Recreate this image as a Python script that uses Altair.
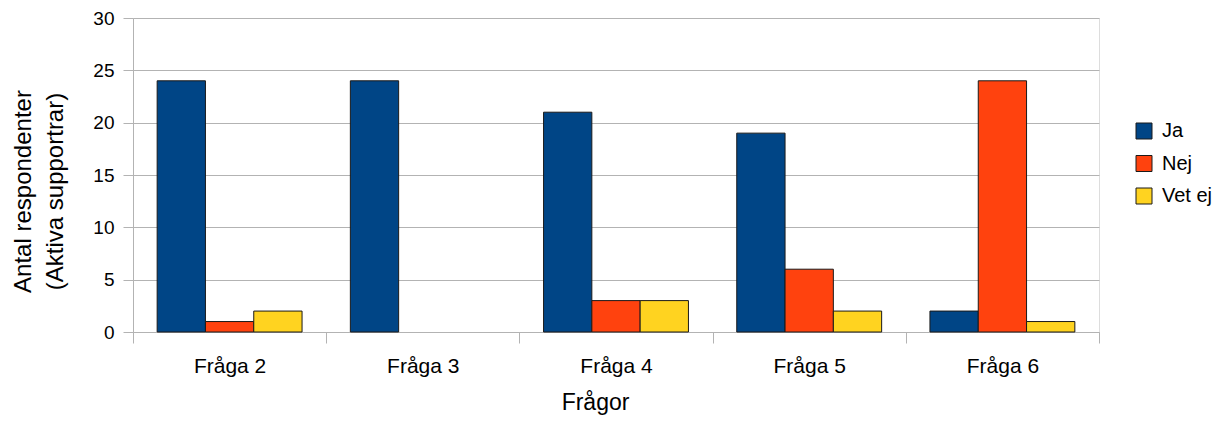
import altair as alt
import pandas as pd

questions = ["Fråga 2", "Fråga 3", "Fråga 4", "Fråga 5", "Fråga 6"]
series = ["Ja", "Nej", "Vet ej"]
ja = [24, 24, 21, 19, 2]
nej = [1, 0, 3, 6, 24]
vet_ej = [2, 0, 3, 2, 1]
colors = ["#004586", "#FF420E", "#FFD320"]

rows = []
for i, q in enumerate(questions):
    for s, vals in zip(series, [ja, nej, vet_ej]):
        rows.append({"q": q, "s": s, "v": vals[i]})
df = pd.DataFrame(rows)

FONT = "Liberation Sans"
GRAY = "#b3b3b3"

chart = alt.Chart(df).transform_filter("datum.v > 0").mark_bar(
    stroke="#1a1a1a", strokeWidth=1
).encode(
    x=alt.X("q:N", sort=questions,
            scale=alt.Scale(paddingInner=0, paddingOuter=0),
            axis=alt.Axis(title="Frågor", labelAngle=0, tickBand="extent",
                          tickSize=11, labelPadding=12,
                          labelFontSize=21, titleFontSize=23,
                          titleX=462, titleY=59, titleBaseline="top", titleAlign="center",
                          domainColor=GRAY, tickColor=GRAY,
                          grid=False)),
    xOffset=alt.XOffset("s:N", sort=series,
                        scale=alt.Scale(domain=series, paddingInner=0, paddingOuter=0.5)),
    y=alt.Y("v:Q", scale=alt.Scale(domain=[0, 30]),
            axis=alt.Axis(title=["Antal respondenter", "(Aktiva supportrar)"],
                          values=[0, 5, 10, 15, 20, 25, 30],
                          tickSize=10, labelPadding=9,
                          labelFontSize=19, titleFontSize=24, titleLineHeight=32,
                          titleAngle=-90, titleX=-122, titleY=173,
                          titleBaseline="top", titleAlign="center",
                          domainColor=GRAY, tickColor=GRAY,
                          gridColor=GRAY)),
    color=alt.Color("s:N", sort=series,
                    scale=alt.Scale(domain=series, range=colors),
                    legend=alt.Legend(title=None, orient="none",
                                      legendX=1001, legendY=103,
                                      symbolType="square", symbolSize=256,
                                      symbolStrokeColor="#1a1a1a", symbolStrokeWidth=1,
                                      labelFontSize=20, rowPadding=12.5, labelOffset=8,
                                      padding=0)),
).properties(
    width=966, height=314,
    autosize=alt.AutoSizeParams(type="none"),
    padding={"left": 125, "top": 10, "right": 118, "bottom": 84},
).configure_view(
    stroke=GRAY
).configure(
    font=FONT
).configure_axis(
    labelColor="#000000", titleColor="#000000", titleFontWeight="normal",
    labelFont=FONT, titleFont=FONT
).configure_legend(
    labelFont=FONT, labelColor="#000000"
)

chart.save("out.html", embed_options={"renderer": "svg", "actions": False})
